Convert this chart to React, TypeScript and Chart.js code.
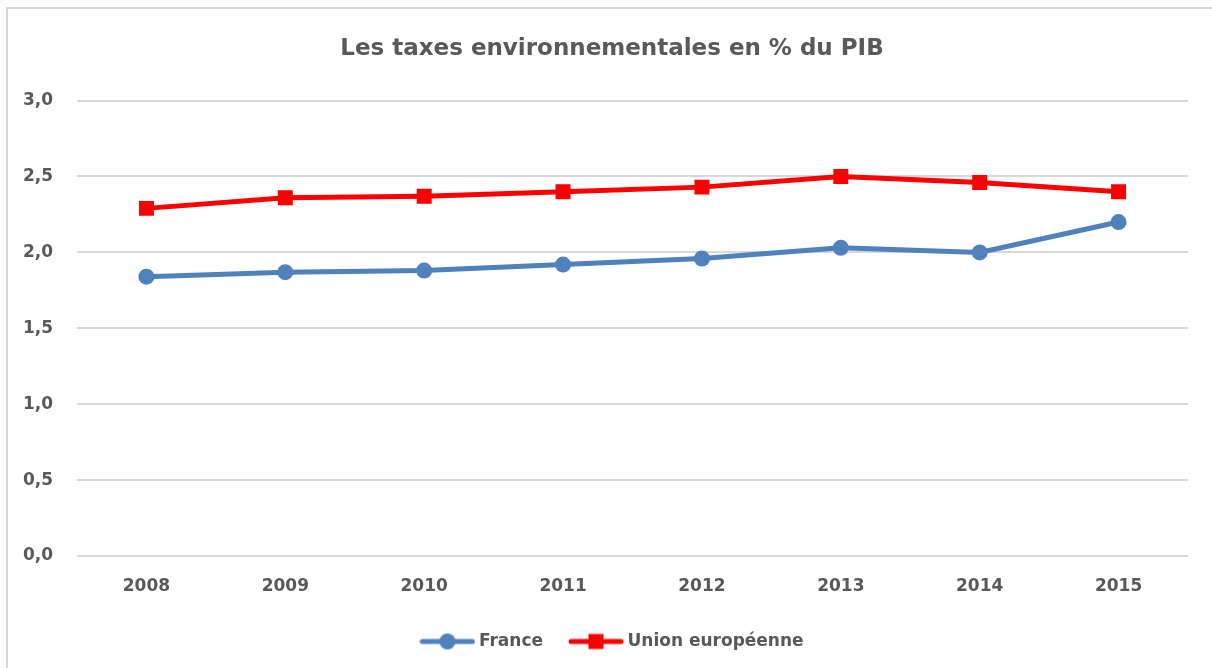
import React, { useEffect, useRef } from "react";
import { Chart, registerables } from "chart.js";

Chart.register(...registerables);

const years = ["2008", "2009", "2010", "2011", "2012", "2013", "2014", "2015"];
const franceValues = [1.84, 1.87, 1.88, 1.92, 1.96, 2.03, 2.0, 2.2];
const euValues = [2.29, 2.36, 2.37, 2.4, 2.43, 2.5, 2.46, 2.4];
const yTicks = [0, 0.5, 1.0, 1.5, 2.0, 2.5, 3.0];

const FONT = "'DejaVu Sans', sans-serif";
const TEXT = "#595959";
const BLUE = "#4F81BD";
const RED = "#FF0000";

function legendIcon(color: string, style: "circle" | "rect"): HTMLCanvasElement {
  const c = document.createElement("canvas");
  c.width = 56;
  c.height = 18;
  const ctx = c.getContext("2d")!;
  ctx.strokeStyle = color;
  ctx.lineWidth = 5;
  ctx.lineCap = "round";
  ctx.beginPath();
  ctx.moveTo(3, 9);
  ctx.lineTo(53, 9);
  ctx.stroke();
  ctx.fillStyle = color;
  if (style === "circle") {
    ctx.beginPath();
    ctx.arc(28, 9, 8, 0, Math.PI * 2);
    ctx.fill();
  } else {
    ctx.fillRect(20.5, 1.5, 15, 15);
  }
  return c;
}

const frameBorder = {
  id: "frameBorder",
  afterLayout(chart: any) {
    if (chart.legend) chart.legend.left = 40;
    if (chart.titleBlock) chart.titleBlock.left = 36;
  },
  beforeDraw(chart: any) {
    const ctx = chart.ctx;
    ctx.save();
    ctx.fillStyle = "#fff";
    ctx.fillRect(0, 0, chart.width, chart.height);
    ctx.strokeStyle = "#D9D9D9";
    ctx.lineWidth = 2;
    ctx.beginPath();
    ctx.moveTo(7, chart.height);
    ctx.lineTo(7, 8);
    ctx.lineTo(chart.width, 8);
    ctx.stroke();
    ctx.restore();
  },
};

export default function App() {
  const ref = useRef<HTMLCanvasElement | null>(null);

  useEffect(() => {
    if (!ref.current) return;
    const icons = [legendIcon(BLUE, "circle"), legendIcon(RED, "rect")];
    const chart = new Chart(ref.current, {
      type: "line",
      plugins: [frameBorder],
      data: {
        labels: years,
        datasets: [
          {
            label: "France",
            data: franceValues,
            borderColor: BLUE,
            backgroundColor: BLUE,
            borderWidth: 5,
            pointStyle: "circle",
            pointRadius: 8,
            pointHoverRadius: 8,
            pointBorderWidth: 0,
            tension: 0,
          },
          {
            label: "Union européenne",
            data: euValues,
            borderColor: RED,
            backgroundColor: RED,
            borderWidth: 5,
            pointStyle: "rect",
            pointRadius: 10.6,
            pointHoverRadius: 10.6,
            pointBorderWidth: 0,
            tension: 0,
          },
        ],
      },
      options: {
        animation: false,
        responsive: false,
        maintainAspectRatio: false,
        layout: { padding: { left: 0, right: 24, top: 0, bottom: 8 } },
        plugins: {
          title: {
            display: true,
            text: "Les taxes environnementales en % du PIB",
            color: TEXT,
            font: { family: FONT, size: 23, weight: "bold" },
            padding: { top: 35, bottom: 38 },
          },
          legend: {
            position: "bottom",
            labels: {
              color: TEXT,
              font: { family: FONT, size: 17, weight: "bold" },
              usePointStyle: true,
              pointStyleWidth: 46,
              boxHeight: 18,
              padding: 30,
              generateLabels: (ch: any) =>
                ch.data.datasets.map((ds: any, i: number) => ({
                  text: ds.label,
                  fillStyle: ds.backgroundColor,
                  strokeStyle: ds.borderColor,
                  lineWidth: 0,
                  pointStyle: icons[i],
                  hidden: false,
                  datasetIndex: i,
                  fontColor: TEXT,
                })),
            },
          },
          tooltip: { enabled: false },
        },
        scales: {
          x: {
            offset: true,
            grid: { display: false },
            border: { display: false },
            ticks: {
              color: TEXT,
              font: { family: FONT, size: 17, weight: "bold" },
              padding: 12,
              maxRotation: 0,
            },
            afterFit: (s: any) => {
              s.height = 47;
            },
          },
          y: {
            min: 0,
            max: 3,
            afterBuildTicks: (s: any) => {
              s.ticks = yTicks.map((v) => ({ value: v }));
            },
            grid: { color: "#D9D9D9", lineWidth: 2, drawTicks: false },
            border: { display: false },
            ticks: {
              color: TEXT,
              font: { family: FONT, size: 17, weight: "bold" },
              padding: 24,
              callback: (v: any) => Number(v).toFixed(1).replace(".", ","),
            },
            afterFit: (s: any) => {
              s.width = 77;
            },
          },
        },
      },
    });
    return () => chart.destroy();
  }, []);

  return (
    <div
      style={{
        position: "fixed",
        left: 0,
        top: 0,
        width: 1212,
        height: 668,
        background: "#fff",
        overflow: "hidden",
      }}
    >
      <canvas
        ref={ref}
        width={1212}
        height={668}
        style={{ display: "block", width: 1212, height: 668 }}
      />
    </div>
  );
}
